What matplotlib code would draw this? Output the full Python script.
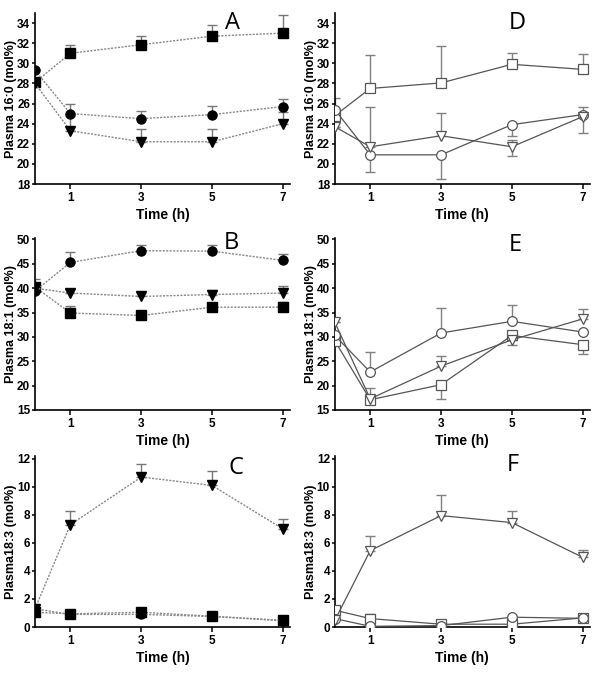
import matplotlib
matplotlib.use('Agg')
import matplotlib.pyplot as plt
import numpy as np

plt.rcParams['font.family'] = ['Liberation Sans', 'DejaVu Sans']

time_h = [0, 1, 3, 5, 7]

# Panel A - plasma 16:0, filled markers (upper error only)
a_sq = [28.1, 31.0, 31.85, 32.7, 33.0]
a_sq_up = [0.0, 0.8, 0.85, 1.1, 1.8]
a_ci = [29.3, 25.0, 24.5, 24.9, 25.7]
a_ci_up = [0.0, 1.0, 0.8, 0.9, 0.8]
a_tr = [28.0, 23.3, 22.2, 22.2, 24.0]
a_tr_up = [0.0, 1.5, 1.3, 1.3, 1.2]

# Panel B - plasma 18:1
b_sq = [40.25, 34.9, 34.4, 36.1, 36.1]
b_sq_up = [1.6, 1.4, 0.7, 0.7, 1.1]
b_ci = [39.4, 45.3, 47.7, 47.6, 45.7]
b_ci_up = [0.0, 2.1, 1.2, 1.2, 1.4]
b_tr = [40.0, 39.0, 38.3, 38.7, 39.0]
b_tr_up = [0.0, 0.9, 0.7, 0.9, 1.4]

# Panel C - plasma 18:3
c_sq = [1.05, 0.94, 1.05, 0.77, 0.47]
c_sq_up = [0.15, 0.1, 0.15, 0.1, 0.1]
c_ci = [1.3, 0.9, 0.9, 0.75, 0.45]
c_ci_up = [0.1, 0.1, 0.1, 0.1, 0.1]
c_tr = [1.3, 7.3, 10.7, 10.1, 7.0]
c_tr_up = [0.0, 1.0, 0.9, 1.0, 0.7]

# Panel D - plasma 16:0, open markers  (lower, upper errors)
d_sq = [24.8, 27.5, 28.05, 29.9, 29.4]
d_sq_lo = [0.0, 0.0, 0.0, 0.0, 0.0]
d_sq_up = [0.0, 3.3, 3.7, 1.15, 1.55]
d_ci = [25.4, 20.9, 20.9, 23.9, 24.9]
d_ci_lo = [0.0, 1.7, 2.4, 1.15, 0.0]
d_ci_up = [1.2, 0.0, 0.0, 0.0, 0.75]
d_tr = [23.7, 21.7, 22.8, 21.7, 24.7]
d_tr_lo = [0.0, 0.0, 0.0, 0.95, 1.6]
d_tr_up = [0.0, 4.0, 2.3, 0.7, 0.0]

# Panel E - plasma 18:1
e_sq = [29.2, 17.1, 20.2, 30.3, 28.4]
e_sq_lo = [0.0, 0.0, 2.9, 0.0, 2.0]
e_sq_up = [0.0, 2.4, 0.0, 0.6, 0.0]
e_ci = [30.3, 22.8, 30.8, 33.2, 31.0]
e_ci_lo = [0.0, 0.0, 0.0, 0.0, 0.0]
e_ci_up = [0.0, 4.2, 5.1, 3.3, 0.0]
e_tr = [33.0, 17.3, 24.0, 29.4, 33.7]
e_tr_lo = [0.0, 0.0, 0.0, 1.1, 0.0]
e_tr_up = [0.0, 0.0, 2.1, 0.0, 2.0]

# Panel F - plasma 18:3
f_sq = [1.2, 0.6, 0.2, 0.2, 0.65]
f_sq_lo = [0.0, 0.0, 0.0, 0.0, 0.0]
f_sq_up = [0.3, 0.3, 0.0, 0.0, 0.0]
f_ci = [0.6, 0.05, 0.1, 0.7, 0.62]
f_ci_lo = [0.0, 0.0, 0.0, 0.0, 0.0]
f_ci_up = [0.0, 0.0, 0.0, 0.0, 0.0]
f_tr = [0.47, 5.45, 7.95, 7.45, 4.97]
f_tr_lo = [0.0, 0.0, 0.0, 0.0, 0.0]
f_tr_up = [0.0, 1.05, 1.5, 0.8, 0.55]

fig = plt.figure(figsize=(6, 6.75), dpi=100)

col_left = [0.0583, 0.558]
rows = [(0.7274, 0.2533), (0.3926, 0.2548), (0.0711, 0.2533)]
w = 0.425


def style_axis(ax, ylim, yticks, ylabel, letter, lx, ly):
    ax.set_xlim(0, 7.2)
    ax.set_ylim(*ylim)
    ax.set_xticks([1, 3, 5, 7])
    ax.set_yticks(yticks)
    ax.spines['top'].set_visible(False)
    ax.spines['right'].set_visible(False)
    ax.spines['left'].set_linewidth(1.2)
    ax.spines['bottom'].set_linewidth(1.2)
    ax.tick_params(direction='out', length=2.5, width=1.1, labelsize=8.5, pad=1)
    ax.tick_params(axis='x', length=3.5, pad=2)
    for lab in ax.get_xticklabels() + ax.get_yticklabels():
        lab.set_fontweight('bold')
    ax.set_xlabel('Time (h)', fontsize=10, fontweight='bold', labelpad=3)
    ax.set_ylabel(ylabel, fontsize=9, fontweight='bold')
    ax.yaxis.set_label_coords(-0.07, 0.5)
    ax.text(lx, ly, letter, transform=ax.transAxes, fontsize=17,
            ha='center', va='center', family=['Open Sans', 'DejaVu Sans'])


def filled(ax, y, up, marker):
    lo = np.zeros(len(y))
    ax.errorbar(time_h, y, yerr=[lo, up], fmt='none', ecolor='#777777',
                elinewidth=1, capsize=3.5, capthick=1)
    ax.plot(time_h, y, color='#888888', lw=1, ls=(0, (1.5, 1)),
            marker=marker, ms=6.5, mfc='black', mec='black', zorder=3)


def opened(ax, y, lo, up, marker):
    ax.errorbar(time_h, y, yerr=[lo, up], fmt='none', ecolor='#808080',
                elinewidth=1, capsize=3.5, capthick=1)
    ax.plot(time_h, y, color='#555555', lw=0.9,
            marker=marker, ms=7, mfc='white', mec='#555555', mew=0.9, zorder=3)


# left column
ax = fig.add_axes([col_left[0], rows[0][0], w, rows[0][1]])
filled(ax, a_sq, a_sq_up, 's')
filled(ax, a_ci, a_ci_up, 'o')
filled(ax, a_tr, a_tr_up, 'v')
style_axis(ax, (18, 35), range(18, 35, 2), 'Plasma 16:0 (mol%)', 'A', 0.776, 0.94)

ax = fig.add_axes([col_left[0], rows[1][0], w, rows[1][1]])
filled(ax, b_sq, b_sq_up, 's')
filled(ax, b_ci, b_ci_up, 'o')
filled(ax, b_tr, b_tr_up, 'v')
style_axis(ax, (15, 50.3), range(15, 51, 5), 'Plasma 18:1 (mol%)', 'B', 0.772, 0.97)

ax = fig.add_axes([col_left[0], rows[2][0], w, rows[2][1]])
filled(ax, c_sq, c_sq_up, 's')
filled(ax, c_ci, c_ci_up, 'o')
filled(ax, c_tr, c_tr_up, 'v')
style_axis(ax, (0, 12.2), range(0, 13, 2), 'Plasma18:3 (mol%)', 'C', 0.79, 0.93)

# right column
ax = fig.add_axes([col_left[1], rows[0][0], w, rows[0][1]])
opened(ax, d_sq, d_sq_lo, d_sq_up, 's')
opened(ax, d_ci, d_ci_lo, d_ci_up, 'o')
opened(ax, d_tr, d_tr_lo, d_tr_up, 'v')
style_axis(ax, (18, 35), range(18, 35, 2), 'Plasma 16:0 (mol%)', 'D', 0.714, 0.94)

ax = fig.add_axes([col_left[1], rows[1][0], w, rows[1][1]])
opened(ax, e_sq, e_sq_lo, e_sq_up, 's')
opened(ax, e_ci, e_ci_lo, e_ci_up, 'o')
opened(ax, e_tr, e_tr_lo, e_tr_up, 'v')
style_axis(ax, (15, 50.3), range(15, 51, 5), 'Plasma 18:1 (mol%)', 'E', 0.706, 0.96)

ax = fig.add_axes([col_left[1], rows[2][0], w, rows[2][1]])
opened(ax, f_sq, f_sq_lo, f_sq_up, 's')
opened(ax, f_ci, f_ci_lo, f_ci_up, 'o')
opened(ax, f_tr, f_tr_lo, f_tr_up, 'v')
style_axis(ax, (0, 12.2), range(0, 13, 2), 'Plasma18:3 (mol%)', 'F', 0.70, 0.947)

fig.savefig('out.png', dpi=100)
